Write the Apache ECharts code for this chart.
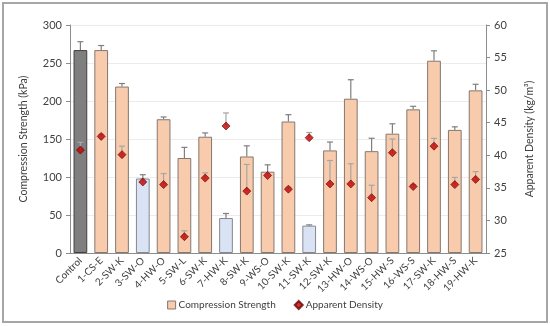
<!DOCTYPE html>
<html><head><meta charset="utf-8">
<script src="https://cdn.jsdelivr.net/npm/echarts@6/dist/echarts.min.js"></script>
<style>html,body{margin:0;padding:0;background:#fff}#c{width:550px;height:326px}</style>
</head><body><div id="c"></div>
<script>
var categories = ['Control','1-CS-E','2-SW-K','3-SW-O','4-HW-O','5-SW-L','6-SW-K','7-HW-K','8-SW-K','9-WS-O','10-SW-K','11-SW-K','12-SW-K','13-HW-O','14-WS-O','15-HW-S','16-WS-S','17-SW-K','18-HW-S','19-HW-K'];
var groups = ['control','orange','orange','blue','orange','orange','orange','blue','orange','orange','orange','blue','orange','orange','orange','orange','orange','orange','orange','orange'];
var strength = [267,267,219,98,176,125,153,46,127,107,173,36,135,203,134,157,189,253,162,214];
var strengthErrTop = [278,273,223,103,179,139,158,52,141,116,182,37,146,228,151,170,193,266,166,222];
var density = [40.8,42.9,40.1,35.9,35.5,27.5,36.5,44.5,34.5,36.9,34.8,42.7,35.6,35.6,33.5,40.4,35.2,41.4,35.5,36.3];
var densityErrTop = [42.0,43.2,41.4,36.4,37.2,28.4,37.3,46.5,38.6,37.3,35.1,43.5,39.2,38.7,35.4,42.5,35.5,42.6,36.6,37.5];
var leftTicks = [0,50,100,150,200,250,300];
var rightTicks = [25,30,35,40,45,50,55,60];

var FONT = 'Lato';
var fills = {control:'#7f7f7f', orange:'#f8cbad', blue:'#dae3f3'};
var borders = {control:'#404040', orange:'#857870', blue:'#858890'};

function errRender(yIdx, color) {
  return function(params, api) {
    var i = api.value(0);
    var p0 = api.coord([i, api.value(1)]);
    var p1 = api.coord([i, api.value(2)]);
    var h = 3;
    return {type:'group', children:[
      {type:'line', shape:{x1:p0[0],y1:p0[1],x2:p1[0],y2:p1[1]}, style:{stroke:color,lineWidth:1.2}},
      {type:'line', shape:{x1:p1[0]-h,y1:p1[1],x2:p1[0]+h,y2:p1[1]}, style:{stroke:color,lineWidth:1.2}}
    ]};
  };
}

var chart = echarts.init(document.getElementById('c'));
chart.setOption({
  animation:false,
  textStyle:{fontFamily:FONT},
  graphic:[{type:'rect', shape:{x:3,y:3,width:544,height:319}, style:{fill:'none',stroke:'#a6a6a6',lineWidth:2}, z:-1}],
  grid:{left:70,right:64,top:25,bottom:73},
  legend:{bottom:11,left:'center',itemWidth:8,itemHeight:8,itemGap:18,
    textStyle:{fontFamily:FONT,fontSize:10,color:'#404040',padding:[0,0,0,-2]},
    data:[{name:'Compression Strength',icon:'rect',itemStyle:{color:'#f8cbad',borderColor:'#857870',borderWidth:1}},
          {name:'Apparent Density',icon:'diamond',itemStyle:{color:'#c00000'}}]},
  xAxis:{type:'category',data:categories,
    axisLine:{lineStyle:{color:'#8c8c8c'}},axisTick:{show:false},
    axisLabel:{rotate:45,interval:0,fontSize:10,color:'#404040',fontFamily:FONT,margin:6}},
  yAxis:[
    {type:'value',min:0,max:300,interval:50,name:'Compression Strength (kPa)',nameLocation:'middle',nameGap:41,
     nameTextStyle:{fontSize:10.5,color:'#404040',fontFamily:FONT},
     axisLine:{show:true,lineStyle:{color:'#8c8c8c'}},axisTick:{show:true,length:4,lineStyle:{color:'#8c8c8c'}},
     axisLabel:{fontSize:11,color:'#404040',fontFamily:FONT,margin:8},
     splitLine:{lineStyle:{color:'#ececec'}}},
    {type:'value',min:25,max:60,interval:5,name:'Apparent Density (kg/m³)',nameLocation:'middle',nameGap:38,nameRotate:90,
     nameTextStyle:{fontSize:10.5,color:'#404040',fontFamily:FONT},
     axisLine:{show:true,lineStyle:{color:'#8c8c8c'}},axisTick:{show:true,length:4,lineStyle:{color:'#8c8c8c'}},
     axisLabel:{fontSize:11,color:'#404040',fontFamily:FONT,margin:8},
     splitLine:{show:false}}
  ],
  series:[
    {name:'Compression Strength',type:'bar',barWidth:'66%',z:2,
     data:strength.map(function(v,i){return {value:v,itemStyle:{color:fills[groups[i]],borderColor:borders[groups[i]],borderWidth:1}};})},
    {type:'custom',z:3,yAxisIndex:0,renderItem:errRender(0,'#7f7f7f'),
     data:strength.map(function(v,i){return [i,v,strengthErrTop[i]];})},
    {type:'custom',z:4,yAxisIndex:1,renderItem:errRender(1,'#a6a6a6'),
     data:density.map(function(v,i){return [i,v,densityErrTop[i]];})},
    {name:'Apparent Density',type:'scatter',yAxisIndex:1,symbol:'diamond',symbolSize:8,z:5,
     itemStyle:{color:'#c00000',borderColor:'#6a0000',borderWidth:0.8},
     data:density}
  ]
});
</script></body></html>
